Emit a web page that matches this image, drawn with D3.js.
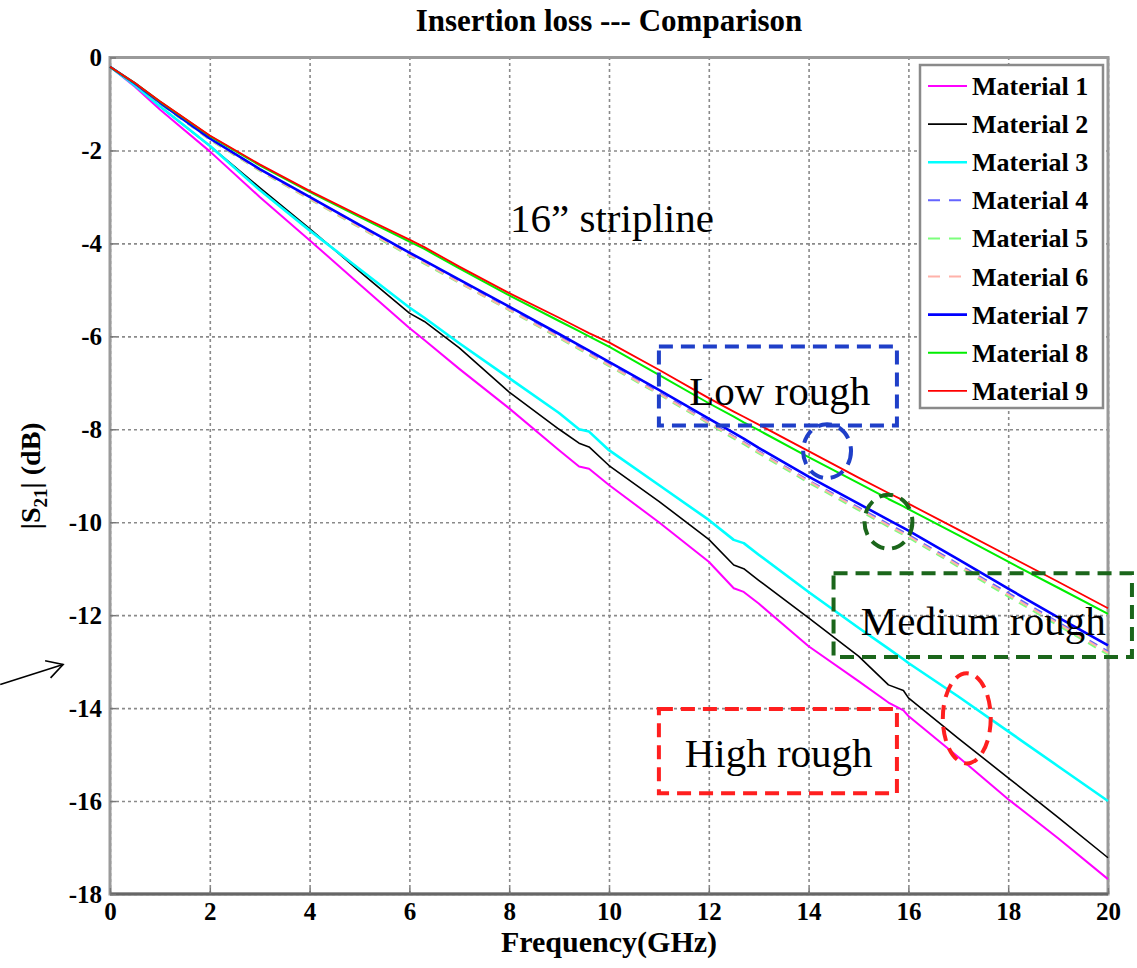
<!DOCTYPE html>
<html>
<head>
<meta charset="utf-8">
<script src="https://cdn.jsdelivr.net/npm/d3@7"></script>
<style>
body { margin: 0; background: #fff; }
svg { display: block; font-family: "Liberation Serif", "Times New Roman", serif; }
</style>
</head>
<body>
<script>
// frequency points (GHz) shared by every curve
var freq = [0, 0.5, 1, 2, 3, 4, 5, 6, 6.3, 7, 8, 9, 9.4, 9.6, 10, 11, 12, 12.5, 12.7, 13, 14, 15, 15.6, 15.9, 16, 17, 18, 19, 20];

// |S21| in dB
var mat1 = [-0.2, -0.63, -1.12, -2.02, -3.0, -3.93, -4.88, -5.82, -6.08, -6.7, -7.55, -8.45, -8.8, -8.85, -9.2, -10.0, -10.85, -11.42, -11.5, -11.75, -12.67, -13.42, -13.88, -14.05, -14.17, -15.05, -15.96, -16.8, -17.68];
var mat2 = [-0.2, -0.6, -1.05, -1.9, -2.8, -3.68, -4.6, -5.5, -5.68, -6.25, -7.2, -8.0, -8.3, -8.38, -8.78, -9.55, -10.37, -10.92, -11.0, -11.25, -12.06, -12.88, -13.5, -13.62, -13.78, -14.65, -15.5, -16.35, -17.22];
var mat3 = [-0.2, -0.6, -1.05, -1.9, -2.85, -3.72, -4.55, -5.38, -5.6, -6.15, -6.9, -7.65, -8.0, -8.05, -8.45, -9.2, -9.95, -10.38, -10.45, -10.7, -11.5, -12.27, -12.72, -12.95, -13.03, -13.75, -14.5, -15.25, -16.0];
var mat4 = [-0.2, -0.57, -0.98, -1.76, -2.42, -3.03, -3.63, -4.24, -4.41, -4.82, -5.41, -6.0, -6.24, -6.36, -6.6, -7.21, -7.83, -8.15, -8.27, -8.47, -9.1, -9.68, -10.04, -10.21, -10.27, -10.9, -11.52, -12.15, -12.78];
var mat5 = [-0.2, -0.57, -0.99, -1.77, -2.44, -3.05, -3.66, -4.27, -4.44, -4.85, -5.44, -6.04, -6.28, -6.4, -6.64, -7.25, -7.88, -8.2, -8.32, -8.52, -9.15, -9.74, -10.1, -10.27, -10.33, -10.96, -11.6, -12.22, -12.85];
var mat6 = [-0.2, -0.57, -0.98, -1.76, -2.43, -3.04, -3.65, -4.25, -4.42, -4.84, -5.43, -6.02, -6.26, -6.38, -6.62, -7.23, -7.86, -8.17, -8.29, -8.49, -9.12, -9.71, -10.07, -10.24, -10.3, -10.93, -11.56, -12.18, -12.81];
var mat7 = [-0.2, -0.56, -0.97, -1.74, -2.4, -3.0, -3.6, -4.2, -4.37, -4.78, -5.36, -5.95, -6.19, -6.31, -6.55, -7.15, -7.77, -8.08, -8.2, -8.4, -9.02, -9.6, -9.95, -10.12, -10.18, -10.8, -11.43, -12.05, -12.65];
var mat8 = [-0.2, -0.55, -0.95, -1.69, -2.32, -2.89, -3.43, -3.96, -4.12, -4.54, -5.12, -5.67, -5.89, -6.0, -6.22, -6.83, -7.44, -7.73, -7.85, -8.02, -8.6, -9.16, -9.5, -9.66, -9.72, -10.28, -10.85, -11.41, -11.97];
var mat9 = [-0.2, -0.55, -0.94, -1.68, -2.3, -2.87, -3.4, -3.92, -4.08, -4.5, -5.07, -5.6, -5.82, -5.93, -6.13, -6.72, -7.33, -7.62, -7.73, -7.9, -8.47, -9.04, -9.37, -9.53, -9.6, -10.16, -10.72, -11.28, -11.85];

var seriesNames = ["Material 1", "Material 2", "Material 3", "Material 4", "Material 5", "Material 6", "Material 7", "Material 8", "Material 9"];
var seriesValues = [mat1, mat2, mat3, mat4, mat5, mat6, mat7, mat8, mat9];

var xTicks = [0, 2, 4, 6, 8, 10, 12, 14, 16, 18, 20];
var yTicks = [0, -2, -4, -6, -8, -10, -12, -14, -16, -18];

// annotations (data units)
var boxLabels = ["Low rough", "Medium rough", "High rough"];
var boxF0 = [11.0, 14.5, 11.0];
var boxF1 = [15.77, 20.48, 15.77];
var boxTop = [-6.22, -11.1, -14.02];
var boxBottom = [-7.92, -12.9, -15.83];
var boxTextF = [13.42, 17.5, 13.4];
var boxTextDb = [-7.48, -12.43, -15.27];
var circF = [14.37, 15.6, 17.17];
var circDb = [-8.47, -9.99, -14.22];
var circRf = [0.48, 0.48, 0.48];
var circRdb = [0.58, 0.58, 0.97];

// styles
var seriesColors = ["#ff00ff", "#000000", "#00ffff", "#6464ff", "#7dff7d", "#ffb2aa", "#0000ff", "#00ee00", "#ff0000"];
var seriesDash = [null, null, null, "9,7", "9,7", "9,7", null, null, null];
var seriesWidth = [2, 1.6, 2.6, 2, 2, 2, 2.6, 2, 1.8];
var boxColors = ["#1f3fc8", "#1b661b", "#ff1f1f"];

var W = 1137, H = 968;
var margin = { top: 57.5, right: 29, bottom: 74, left: 110 },
	width = W - margin.left - margin.right,
	height = H - margin.top - margin.bottom;

var svgRoot = d3.select("body").append("svg")
	.attr("width", W)
	.attr("height", H);

var defs = svgRoot.append("defs");
defs.append("marker")
	.attr("id", "arrowHead")
	.attr("markerUnits", "userSpaceOnUse")
	.attr("markerWidth", 24).attr("markerHeight", 24)
	.attr("viewBox", "0 0 24 24")
	.attr("refX", 20).attr("refY", 12)
	.attr("orient", "auto")
	.append("path")
	.attr("d", "M4,3 L20,12 L4,21")
	.attr("fill", "none")
	.attr("stroke", "#000")
	.attr("stroke-width", 1.6);

var svg = svgRoot.append("g")
	.attr("transform", "translate(" + margin.left + "," + margin.top + ")");

var xScale = d3.scaleLinear().domain([0, 20]).range([0, width]);
var yScale = d3.scaleLinear().domain([-18, 0]).range([height, 0]);

// grid lines
svg.append("g")
	.attr("class", "grid")
	.attr("transform", "translate(0," + height + ")")
	.call(d3.axisBottom(xScale).tickValues(xTicks).tickSize(-height).tickFormat(""));
svg.append("g")
	.attr("class", "grid")
	.call(d3.axisLeft(yScale).tickValues(yTicks).tickSize(-width).tickFormat(""));
svg.selectAll(".grid .domain").remove();
svg.selectAll(".grid line")
	.attr("stroke", "#8a8a8a")
	.attr("stroke-width", 1.6)
	.attr("stroke-dasharray", "3,3");

// axes frame
svg.append("rect")
	.attr("width", width).attr("height", height)
	.attr("fill", "none")
	.attr("stroke", "#9a9a9a")
	.attr("stroke-width", 3);
svg.append("line")
	.attr("x1", 0).attr("x2", width)
	.attr("y1", height).attr("y2", height)
	.attr("stroke", "#666")
	.attr("stroke-width", 3);

// tick labels (plain hyphen minus, as in the original)
var plain = function (d) { return String(d); };
var ax = svg.append("g")
	.attr("transform", "translate(0," + height + ")")
	.call(d3.axisBottom(xScale).tickValues(xTicks).tickSizeInner(-6).tickSizeOuter(0).tickPadding(12).tickFormat(plain));
var ay = svg.append("g")
	.call(d3.axisLeft(yScale).tickValues(yTicks).tickSizeInner(-6).tickSizeOuter(0).tickPadding(8).tickFormat(plain));
[ax, ay].forEach(function (g) {
	g.select(".domain").remove();
	g.selectAll("line").attr("stroke", "#777").attr("stroke-width", 1.5);
	g.selectAll("text")
		.attr("fill", "#000")
		.attr("font-family", "Liberation Serif, Times New Roman, serif")
		.attr("font-weight", "bold")
		.attr("font-size", "25px");
});
ax.selectAll("text").attr("dy", "0.55em");

// curves
var line = d3.line()
	.x(function (d, i) { return xScale(freq[i]); })
	.y(function (d) { return yScale(d); });

seriesValues.forEach(function (vals, k) {
	svg.append("path")
		.datum(vals)
		.attr("class", "line")
		.attr("d", line)
		.attr("fill", "none")
		.attr("stroke", seriesColors[k])
		.attr("stroke-width", seriesWidth[k])
		.attr("stroke-dasharray", seriesDash[k])
		.attr("stroke-linejoin", "round");
});

// annotation boxes and labels
boxLabels.forEach(function (lab, k) {
	svg.append("rect")
		.attr("x", xScale(boxF0[k]))
		.attr("y", yScale(boxTop[k]))
		.attr("width", xScale(boxF1[k]) - xScale(boxF0[k]))
		.attr("height", yScale(boxBottom[k]) - yScale(boxTop[k]))
		.attr("fill", "none")
		.attr("stroke", boxColors[k])
		.attr("stroke-width", 4)
		.attr("stroke-dasharray", "14,8");
	svg.append("text")
		.attr("x", xScale(boxTextF[k]))
		.attr("y", yScale(boxTextDb[k]))
		.attr("text-anchor", "middle")
		.attr("font-size", "41px")
		.attr("fill", "#000")
		.text(lab);
});

circF.forEach(function (f, k) {
	svg.append("ellipse")
		.attr("cx", xScale(f))
		.attr("cy", yScale(circDb[k]))
		.attr("rx", xScale(circRf[k]) - xScale(0))
		.attr("ry", yScale(-circRdb[k]) - yScale(0))
		.attr("fill", "none")
		.attr("stroke", boxColors[k])
		.attr("stroke-width", 4)
		.attr("stroke-dasharray", "14,8");
});

svg.append("text")
	.attr("x", xScale(10.06))
	.attr("y", yScale(-3.75))
	.attr("text-anchor", "middle")
	.attr("font-size", "41px")
	.attr("fill", "#000")
	.text("16\u201D stripline");

// stray arrow on the left
svg.append("line")
	.attr("x1", xScale(-2.2)).attr("y1", yScale(-13.49))
	.attr("x2", xScale(-0.94)).attr("y2", yScale(-13.06))
	.attr("stroke", "#000")
	.attr("stroke-width", 1.6)
	.attr("marker-end", "url(#arrowHead)");

// legend
var legX = 920 - margin.left, legY = 65 - margin.top, legStep = 38.1;
svg.append("rect")
	.attr("x", legX).attr("y", legY)
	.attr("width", 183).attr("height", 343)
	.attr("fill", "#fff")
	.attr("stroke", "#8a8a8a")
	.attr("stroke-width", 2.5);
seriesNames.forEach(function (name, k) {
	var yy = legY + 21 + k * legStep;
	svg.append("line")
		.attr("x1", legX + 8).attr("x2", legX + 47)
		.attr("y1", yy).attr("y2", yy)
		.attr("stroke", seriesColors[k])
		.attr("stroke-width", seriesWidth[k])
		.attr("stroke-dasharray", seriesDash[k] ? "12,9" : null);
	svg.append("text")
		.attr("x", legX + 52)
		.attr("y", yy + 9)
		.attr("font-size", "26px")
		.attr("font-weight", "bold")
		.attr("fill", "#000")
		.text(name);
});

// title and axis labels
svgRoot.append("text")
	.attr("x", margin.left + width / 2)
	.attr("y", 31)
	.attr("text-anchor", "middle")
	.attr("font-size", "31px")
	.attr("font-weight", "bold")
	.text("Insertion loss --- Comparison");

svgRoot.append("text")
	.attr("x", margin.left + width / 2)
	.attr("y", 952)
	.attr("text-anchor", "middle")
	.attr("font-size", "30px")
	.attr("font-weight", "bold")
	.text("Frequency(GHz)");

var yl = svgRoot.append("text")
	.attr("transform", "translate(40," + (margin.top + height / 2) + ") rotate(-90)")
	.attr("text-anchor", "middle")
	.attr("font-size", "28px")
	.attr("font-weight", "bold");
yl.append("tspan").text("|S");
yl.append("tspan").attr("font-size", "19px").attr("dy", 7).text("21");
yl.append("tspan").attr("dy", -7).text("| (dB)");
</script>
</body>
</html>
